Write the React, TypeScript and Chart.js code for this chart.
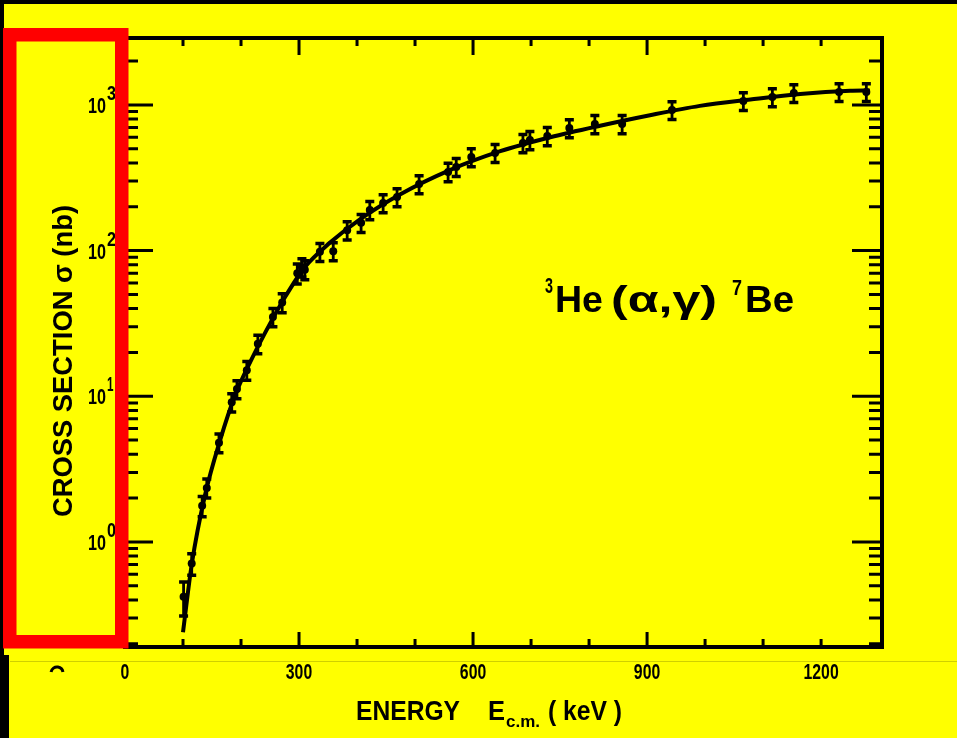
import React, { useEffect, useRef } from 'react';
import { Chart, registerables } from 'chart.js';
Chart.register(...registerables);

// ---- data ----
const energyKeV = [101, 115, 133, 141, 162, 184, 193, 210, 229, 255, 271, 297, 305, 310, 336, 359, 383, 407, 422, 445, 469, 507, 557, 571, 597, 638, 686, 698, 728, 766, 810, 857, 943, 1066, 1116, 1153, 1231, 1278];
const crossSectionNb = [0.42, 0.71, 1.77, 2.35, 4.8, 9.1, 11.2, 15.1, 22.9, 35, 44, 70, 77, 74, 98, 99, 138, 155, 190, 212, 233, 286, 347, 375, 439, 468, 548, 574, 612, 694, 740, 740, 923, 1064, 1133, 1208, 1227, 1227];
const crossSectionErrNb = [0.11, 0.12, 0.28, 0.35, 0.7, 1.3, 1.6, 2.2, 3.3, 5, 6.5, 11, 11, 11, 14, 14, 20, 22, 27, 30, 33, 40, 50, 53, 62, 66, 78, 82, 87, 98, 105, 105, 130, 150, 160, 170, 172, 172];

const fitEnergyKeV = [100, 115, 138, 164, 190, 216, 241, 276, 310, 353, 405, 474, 560, 647, 733, 819, 905, 991, 1078, 1164, 1250, 1284];
const fitCrossSectionNb = [0.24, 0.7, 2.1, 5.0, 10.2, 17.2, 27, 48, 77, 113, 164, 243, 357, 481, 600, 720, 850, 985, 1090, 1190, 1250, 1255];

const xTickValues = [0, 300, 600, 900, 1200];
const xTickLabels = ['0', '300', '600', '900', '1200'];
const xMajorMarks = [0, 300, 600, 900];
const xMinorMarks = [100, 200, 400, 500, 700, 800, 1000, 1100, 1200];
const yTickValues = [1, 10, 100, 1000];
const yTickBase = ['10', '10', '10', '10'];
const yTickExp = ['0', '1', '2', '3'];
const yMinorMarks = [0.2, 0.3, 0.4, 0.5, 0.6, 0.7, 0.8, 0.9, 2, 3, 4, 5, 6, 7, 8, 9, 20, 30, 40, 50, 60, 70, 80, 90, 200, 300, 400, 500, 600, 700, 800, 900, 2000];

const xTitle = 'ENERGY';
const xTitleSymbol = 'E';
const xTitleSub = 'c.m.';
const xTitleUnit = '( keV )';
const yTitle = 'CROSS SECTION σ (nb)';
const reactionParts = ['3', 'He', '(α,γ)', '7', 'Be'];

const FONT = "'Liberation Sans', Arial, sans-serif";

function drawScaled(ctx: CanvasRenderingContext2D, text: string, x: number, y: number, size: number, width: number, align: 'left' | 'center' | 'right' = 'left') {
  ctx.save();
  ctx.font = `bold ${size}px ${FONT}`;
  ctx.textBaseline = 'alphabetic';
  ctx.textAlign = 'left';
  const w = ctx.measureText(text).width;
  const sx = width / w;
  let left = x;
  if (align === 'center') left = x - width / 2;
  if (align === 'right') left = x - width;
  ctx.translate(left, y);
  ctx.scale(sx, 1);
  ctx.fillText(text, 0, 0);
  ctx.restore();
}

const decoPlugin = {
  id: 'deco',
  beforeDraw(chart: any) {
    const { ctx, width, height } = chart;
    ctx.save();
    ctx.fillStyle = '#ffff00';
    ctx.fillRect(0, 0, width, height);
    ctx.fillStyle = '#000';
    ctx.fillRect(0, 0, width, 4);
    ctx.fillRect(0, 0, 4, height);
    ctx.fillRect(0, 655, 9, height - 655);
    ctx.strokeStyle = 'rgba(120,120,0,0.35)';
    ctx.lineWidth = 1;
    ctx.beginPath();
    ctx.moveTo(10, 661.5);
    ctx.lineTo(width, 661.5);
    ctx.stroke();
    ctx.restore();
  },
  afterDatasetsDraw(chart: any) {
    const { ctx } = chart;
    const xs = chart.scales.x;
    const ys = chart.scales.y;
    ctx.save();
    ctx.strokeStyle = '#000';
    ctx.lineCap = 'butt';
    energyKeV.forEach((e, i) => {
      const px = xs.getPixelForValue(e);
      const yt = ys.getPixelForValue(crossSectionNb[i] + crossSectionErrNb[i]);
      const yb = ys.getPixelForValue(crossSectionNb[i] - crossSectionErrNb[i]);
      ctx.lineWidth = 2.8;
      ctx.beginPath();
      ctx.moveTo(px, yt);
      ctx.lineTo(px, yb);
      ctx.stroke();
      ctx.lineWidth = 3.5;
      ctx.beginPath();
      ctx.moveTo(px - 4.5, yt);
      ctx.lineTo(px + 4.5, yt);
      ctx.moveTo(px - 4.5, yb);
      ctx.lineTo(px + 4.5, yb);
      ctx.stroke();
    });
    ctx.restore();
  },
  afterDraw(chart: any) {
    const { ctx } = chart;
    const xs = chart.scales.x;
    const ys = chart.scales.y;
    const { left, right, top, bottom } = chart.chartArea;
    ctx.save();
    ctx.strokeStyle = '#000';
    ctx.fillStyle = '#000';
    // frame
    ctx.lineWidth = 4;
    ctx.strokeRect(left, top, right - left, bottom - top);
    // ticks on all four sides, pointing inward
    ctx.lineWidth = 3;
    ctx.beginPath();
    xMajorMarks.forEach((v) => {
      const px = xs.getPixelForValue(v);
      ctx.moveTo(px, bottom); ctx.lineTo(px, bottom - 15);
      ctx.moveTo(px, top); ctx.lineTo(px, top + 17);
    });
    xMinorMarks.forEach((v) => {
      const px = xs.getPixelForValue(v);
      ctx.moveTo(px, bottom); ctx.lineTo(px, bottom - 8);
      ctx.moveTo(px, top); ctx.lineTo(px, top + 8);
    });
    yTickValues.forEach((v) => {
      const py = ys.getPixelForValue(v);
      ctx.moveTo(left, py); ctx.lineTo(left + 28, py);
      ctx.moveTo(right, py); ctx.lineTo(right - 30, py);
    });
    yMinorMarks.forEach((v) => {
      const py = ys.getPixelForValue(v);
      ctx.moveTo(left, py); ctx.lineTo(left + 13, py);
      ctx.moveTo(right, py); ctx.lineTo(right - 13, py);
    });
    ctx.stroke();

    // x tick labels
    xTickValues.forEach((v, i) => {
      const px = xs.getPixelForValue(v);
      const txt = xTickLabels[i];
      drawScaled(ctx, txt, px, 679, 22, txt.length * 8.8, 'center');
    });
    // y tick labels with superscripts
    yTickValues.forEach((v, i) => {
      const py = ys.getPixelForValue(v);
      drawScaled(ctx, yTickBase[i], 106, py + 8, 22, 18, 'right');
      drawScaled(ctx, yTickExp[i], 107, py - 5, 21, yTickExp[i] === '1' ? 6.5 : 9, 'left');
    });

    // x title
    drawScaled(ctx, xTitle, 356, 720, 28, 104);
    drawScaled(ctx, xTitleSymbol, 488, 720, 28, 17);
    drawScaled(ctx, xTitleSub, 506, 727, 16, 34);
    drawScaled(ctx, xTitleUnit, 548, 720, 28, 74);

    // y title (rotated)
    ctx.save();
    ctx.translate(72, 361);
    ctx.rotate(-Math.PI / 2);
    drawScaled(ctx, yTitle, 0, 0, 28, 312, 'center');
    ctx.restore();

    // reaction label
    drawScaled(ctx, reactionParts[0], 545, 293, 22, 8);
    drawScaled(ctx, reactionParts[1], 555, 312, 37, 48);
    drawScaled(ctx, reactionParts[2], 611, 312, 37, 106);
    drawScaled(ctx, reactionParts[3], 732, 295, 22, 10);
    drawScaled(ctx, reactionParts[4], 745, 312, 37, 49);

    // stray glyph fragment at lower left
    ctx.lineWidth = 3;
    ctx.beginPath();
    ctx.arc(57, 673, 6, Math.PI * 1.05, Math.PI * 1.95);
    ctx.stroke();

    // red annotation box
    ctx.strokeStyle = '#ff0000';
    ctx.lineWidth = 13.5;
    ctx.strokeRect(9.75, 34.75, 112, 607);
    ctx.restore();
  },
};

export default function App() {
  const ref = useRef<HTMLCanvasElement>(null);
  useEffect(() => {
    if (!ref.current) return;
    const chart = new Chart(ref.current, {
      type: 'scatter',
      data: {
        datasets: [
          {
            type: 'line',
            label: 'fit',
            data: fitEnergyKeV.map((e, i) => ({ x: e, y: fitCrossSectionNb[i] })),
            borderColor: '#000',
            borderWidth: 4,
            pointRadius: 0,
            fill: false,
            cubicInterpolationMode: 'monotone',
          } as any,
          {
            type: 'scatter',
            label: '3He(α,γ)7Be',
            data: energyKeV.map((e, i) => ({ x: e, y: crossSectionNb[i] })),
            backgroundColor: '#000',
            borderColor: '#000',
            pointRadius: 4,
            pointBorderWidth: 0,
          },
        ],
      },
      options: {
        responsive: false,
        animation: false,
        devicePixelRatio: 1,
        layout: { padding: { left: 0, right: 75, top: 38, bottom: 0 } },
        plugins: { legend: { display: false }, tooltip: { enabled: false }, title: { display: false } },
        scales: {
          x: {
            type: 'linear',
            min: 0,
            max: 1305,
            grid: { display: false, drawTicks: false },
            border: { display: false },
            ticks: { display: false },
            afterBuildTicks: (s: any) => { s.ticks = xTickValues.map((v) => ({ value: v })); },
            afterFit: (s: any) => { s.height = 91; },
          },
          y: {
            type: 'logarithmic',
            min: 0.19,
            max: 2880,
            grid: { display: false, drawTicks: false },
            border: { display: false },
            ticks: { display: false },
            afterBuildTicks: (s: any) => { s.ticks = yTickValues.map((v) => ({ value: v })); },
            afterFit: (s: any) => { s.width = 125; },
          },
        },
      },
      plugins: [decoPlugin],
    });
    return () => chart.destroy();
  }, []);
  return (
    <div style={{ position: 'absolute', left: 0, top: 0, width: 957, height: 738 }}>
      <canvas ref={ref} width={957} height={738} />
    </div>
  );
}
